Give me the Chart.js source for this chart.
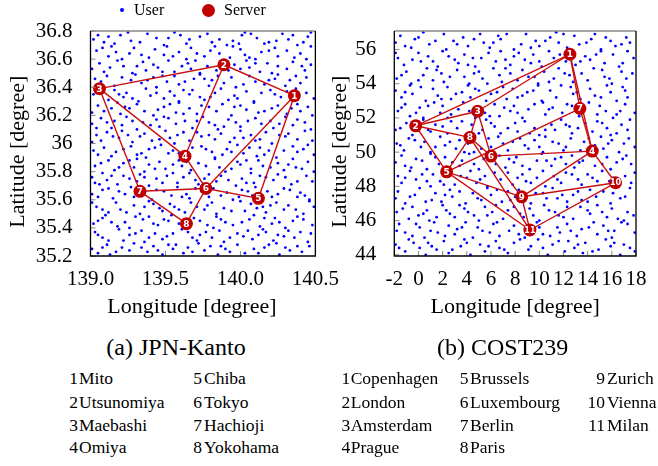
<!DOCTYPE html>
<html>
<head>
<meta charset="utf-8">
<script src="https://cdn.jsdelivr.net/npm/chart.js@4.4.0/dist/chart.umd.min.js"></script>
<style>
  body { margin: 0; width: 658px; height: 466px; background: #fff; position: relative; overflow: hidden;
         font-family: "Liberation Serif", "Times New Roman", serif; color: #000; }
  .cv { position: absolute; top: 0; height: 330px; }
  .txt { position: absolute; white-space: nowrap; }
  .mk { position: absolute; border-radius: 50%; }
  .lg { font-size: 16px; line-height: 16px; }
  .cap { font-size: 24px; line-height: 24px; transform: translateX(-50%); }
  .item { font-size: 17.5px; line-height: 17.5px; display: flex; }
  .item .num { display: inline-block; text-align: right; }
</style>
</head>
<body>
<div class="cv" style="left:0;width:350px"><canvas id="kantoChart"></canvas></div>
<div class="cv" style="left:320px;width:338px"><canvas id="costChart"></canvas></div>

<div class="mk" style="left:120px;top:8px;width:4px;height:4px;background:#0000ff"></div>
<div class="txt lg" style="left:134px;top:1.6px">User</div>
<div class="mk" style="left:201.5px;top:3.5px;width:13px;height:13px;background:#c00000"></div>
<div class="txt lg" style="left:224px;top:1.6px">Server</div>

<div class="txt cap" style="left:176px;top:334.9px">(a) JPN-Kanto</div>
<div class="txt cap" style="left:502.7px;top:334.9px">(b) COST239</div>
<div id="lists"></div>

<script>
// ---- JPN-Kanto ----
const kantoServers = [[140.36,36.34],[139.89,36.56],[139.06,36.39],[139.63,35.91],
                      [140.12,35.61],[139.77,35.68],[139.33,35.66],[139.64,35.43]];
const kantoEdges = [[3,2],[2,1],[3,4],[2,4],[3,7],[1,6],[1,5],[4,6],[7,6],[6,5],[7,8],[8,6]];
const kantoLonTicks = [139.0, 139.5, 140.0, 140.5];
const kantoLonLabels = ['139.0', '139.5', '140.0', '140.5'];
const kantoLatTicks = [35.2, 35.4, 35.6, 35.8, 36.0, 36.2, 36.4, 36.6, 36.8];
const kantoLatLabels = ['35.2', '35.4', '35.6', '35.8', '36', '36.2', '36.4', '36.6', '36.8'];
const kantoNames = ['Mito', 'Utsunomiya', 'Maebashi', 'Omiya', 'Chiba', 'Tokyo', 'Hachioji', 'Yokohama'];
const kantoUsers = [
[139.02,36.74],[139.05,36.77],[139.12,36.76],[139.16,36.71],[139.25,36.79],[139.27,36.73],[139.33,36.72],[139.38,36.78],[139.49,36.70],[139.52,36.75],[139.56,36.79],[139.64,36.71],[139.66,36.74],[139.73,36.76],[139.78,36.78],[139.81,36.72],[139.91,36.70],[139.95,36.73],[140.01,36.77],[140.03,36.79],[140.11,36.75],[140.16,36.71],[140.19,36.72],[140.28,36.78],[140.32,36.74],[140.38,36.70],[140.45,36.76],[140.47,36.79],
[139.09,36.72],[139.20,36.77],[139.44,36.75],[139.60,36.77],[139.86,36.74],[139.99,36.71],[140.07,36.78],[140.24,36.73],[140.35,36.77],[140.42,36.72],
[139.04,36.66],[139.12,36.62],[139.14,36.69],[139.21,36.60],[139.26,36.64],[139.29,36.68],[139.39,36.61],[139.43,36.67],[139.49,36.63],[139.51,36.69],[139.59,36.65],[139.64,36.60],[139.67,36.68],[139.76,36.62],[139.80,36.66],[139.86,36.64],[139.93,36.61],[139.95,36.69],[140.00,36.67],[140.03,36.63],[140.10,36.60],[140.14,36.65],[140.23,36.68],[140.25,36.62],[140.31,36.66],[140.36,36.61],[140.47,36.69],
[139.08,36.68],[139.17,36.65],[139.34,36.63],[139.55,36.62],[139.71,36.64],[139.83,36.69],[140.06,36.61],[140.19,36.66],[140.40,36.64],[140.44,36.60],
[139.01,36.53],[139.06,36.57],[139.09,36.51],[139.18,36.59],[139.22,36.55],[139.28,36.50],[139.35,36.58],[139.37,36.52],[139.42,36.56],[139.45,36.54],[139.52,36.59],[139.56,36.51],[139.65,36.57],[139.67,36.53],[139.73,36.50],[139.78,36.55],[139.89,36.58],[139.92,36.52],[139.96,36.56],[140.04,36.59],[140.06,36.54],[140.13,36.51],[140.18,36.57],[140.21,36.50],[140.31,36.53],[140.35,36.58],[140.41,36.55],[140.43,36.52],
[139.13,36.54],[139.31,36.55],[139.48,36.51],[139.61,36.55],[139.70,36.59],[139.84,36.52],[140.00,36.53],[140.10,36.57],[140.25,36.55],[140.47,36.56],
[139.03,36.46],[139.05,36.42],[139.11,36.48],[139.16,36.41],[139.27,36.45],[139.30,36.49],[139.34,36.43],[139.42,36.47],[139.44,36.40],[139.51,36.44],[139.56,36.48],[139.59,36.42],[139.69,36.46],[139.73,36.49],[139.79,36.41],[139.81,36.45],[139.89,36.43],[139.94,36.47],[139.97,36.40],[140.06,36.48],[140.10,36.44],[140.16,36.42],[140.23,36.46],[140.25,36.49],[140.30,36.41],[140.33,36.45],[140.40,36.43],[140.44,36.47],
[139.07,36.44],[139.21,36.47],[139.38,36.45],[139.48,36.48],[139.63,36.44],[139.76,36.46],[139.85,36.48],[140.02,36.42],[140.19,36.45],[140.37,36.48],
[139.02,36.35],[139.12,36.31],[139.16,36.38],[139.22,36.33],[139.24,36.36],[139.32,36.30],[139.37,36.39],[139.40,36.34],[139.49,36.32],[139.53,36.37],[139.59,36.30],[139.66,36.35],[139.68,36.38],[139.73,36.33],[139.76,36.31],[139.83,36.36],[139.87,36.39],[139.96,36.34],[139.98,36.32],[140.04,36.37],[140.09,36.30],[140.20,36.38],[140.23,36.35],[140.27,36.33],[140.35,36.31],[140.37,36.39],[140.44,36.36],[140.49,36.32],
[139.07,36.37],[139.19,36.35],[139.28,36.32],[139.44,36.36],[139.56,36.34],[139.62,36.38],[139.80,36.33],[139.92,36.31],[140.14,36.36],[140.31,36.37],
[139.05,36.27],[139.09,36.23],[139.18,36.29],[139.20,36.21],[139.26,36.25],[139.31,36.28],[139.42,36.20],[139.45,36.24],[139.49,36.26],[139.57,36.22],[139.59,36.29],[139.66,36.25],[139.71,36.21],[139.74,36.27],[139.84,36.23],[139.88,36.28],[139.94,36.20],[139.96,36.26],[140.04,36.24],[140.09,36.29],[140.12,36.22],[140.21,36.25],[140.25,36.27],[140.31,36.21],[140.38,36.28],[140.40,36.23],[140.45,36.26],[140.48,36.20],
[139.01,36.22],[139.14,36.25],[139.23,36.26],[139.36,36.23],[139.53,36.28],[139.62,36.21],[139.79,36.26],[140.00,36.27],[140.16,36.23],[140.34,36.25],
[139.01,36.14],[139.07,36.18],[139.14,36.11],[139.16,36.16],[139.21,36.13],[139.24,36.19],[139.31,36.10],[139.35,36.15],[139.44,36.17],[139.46,36.12],[139.52,36.18],[139.57,36.14],[139.68,36.11],[139.71,36.16],[139.75,36.19],[139.83,36.13],[139.85,36.10],[139.92,36.17],[139.97,36.15],[140.00,36.12],[140.10,36.18],[140.14,36.14],[140.20,36.16],[140.22,36.11],[140.30,36.19],[140.35,36.13],[140.38,36.17],[140.47,36.10],
[139.04,36.11],[139.11,36.15],[139.28,36.16],[139.40,36.13],[139.49,36.19],[139.63,36.16],[139.79,36.15],[139.89,36.12],[140.05,36.16],[140.26,36.14],[140.43,36.15],
[139.04,36.06],[139.07,36.02],[139.11,36.08],[139.19,36.04],[139.21,36.09],[139.28,36.01],[139.33,36.05],[139.36,36.07],[139.46,36.03],[139.50,36.09],[139.56,36.00],[139.58,36.06],[139.66,36.02],[139.71,36.08],[139.74,36.05],[139.83,36.03],[139.87,36.07],[139.93,36.01],[140.00,36.09],[140.02,36.04],[140.07,36.06],[140.10,36.02],[140.17,36.08],[140.21,36.00],[140.30,36.05],[140.32,36.07],[140.38,36.03],[140.43,36.09],
[139.01,36.01],[139.15,36.05],[139.25,36.06],[139.41,36.02],[139.53,36.04],[139.62,36.08],[139.79,36.06],[139.96,36.04],[140.13,36.03],[140.26,36.06],[140.48,36.02],
[139.02,35.95],[139.09,35.97],[139.14,35.91],[139.17,35.94],[139.27,35.98],[139.31,35.92],[139.37,35.90],[139.39,35.96],[139.47,35.99],[139.52,35.93],[139.55,35.95],[139.64,35.91],[139.68,35.97],[139.74,35.98],[139.81,35.94],[139.83,35.90],[139.88,35.92],[139.91,35.96],[139.98,35.99],[140.02,35.93],[140.11,35.91],[140.13,35.97],[140.19,35.95],[140.24,35.90],[140.35,35.98],[140.38,35.94],[140.42,35.96],[140.49,35.92],
[139.05,35.92],[139.22,35.96],[139.34,35.93],[139.43,35.97],[139.59,35.93],[139.77,35.96],[139.94,35.94],[140.06,35.97],[140.16,35.92],[140.29,35.95],[140.45,35.99],
[139.03,35.84],[139.12,35.88],[139.16,35.81],[139.22,35.86],[139.29,35.83],[139.31,35.89],[139.36,35.80],[139.39,35.85],[139.46,35.87],[139.50,35.82],[139.59,35.88],[139.61,35.84],[139.67,35.81],[139.72,35.86],[139.83,35.89],[139.86,35.83],[139.90,35.80],[139.98,35.87],[140.00,35.85],[140.07,35.82],[140.12,35.88],[140.15,35.84],[140.25,35.86],[140.29,35.81],[140.35,35.89],[140.37,35.83],[140.45,35.87],[140.49,35.80],
[139.07,35.86],[139.19,35.83],[139.26,35.88],[139.43,35.82],[139.55,35.85],[139.64,35.87],[139.77,35.84],[139.94,35.82],[140.04,35.88],[140.20,35.83],[140.32,35.85],[140.41,35.82],
[139.01,35.76],[139.03,35.72],[139.08,35.79],[139.11,35.74],[139.18,35.71],[139.22,35.77],[139.31,35.73],[139.33,35.78],[139.39,35.70],[139.44,35.75],[139.55,35.79],[139.58,35.72],[139.62,35.76],[139.70,35.74],[139.72,35.71],[139.79,35.78],[139.84,35.73],[139.87,35.77],[139.97,35.70],[140.01,35.75],[140.07,35.79],[140.09,35.72],[140.17,35.76],[140.22,35.74],[140.25,35.78],[140.34,35.71],[140.38,35.73],[140.44,35.77],
[139.06,35.71],[139.14,35.77],[139.26,35.75],[139.36,35.76],[139.48,35.72],[139.51,35.77],[139.66,35.79],[139.76,35.75],[139.92,35.74],[140.04,35.72],[140.13,35.77],[140.30,35.76],[140.48,35.73],
[139.01,35.64],[139.12,35.68],[139.15,35.61],[139.19,35.66],[139.27,35.69],[139.29,35.62],[139.36,35.65],[139.41,35.60],[139.44,35.67],[139.54,35.63],[139.58,35.69],[139.64,35.64],[139.66,35.61],[139.74,35.66],[139.79,35.62],[139.82,35.68],[139.91,35.65],[139.95,35.60],[140.01,35.67],[140.08,35.63],[140.10,35.69],[140.15,35.61],[140.18,35.66],[140.25,35.64],[140.29,35.68],[140.38,35.62],[140.40,35.65],[140.46,35.60],
[139.05,35.62],[139.08,35.67],[139.23,35.64],[139.32,35.67],[139.49,35.66],[139.61,35.62],[139.70,35.68],[139.87,35.63],[139.99,35.62],[140.05,35.66],[140.21,35.62],[140.33,35.67],[140.43,35.63],
[139.04,35.55],[139.12,35.51],[139.17,35.58],[139.20,35.53],[139.29,35.56],[139.33,35.50],[139.39,35.59],[139.46,35.54],[139.48,35.52],[139.53,35.57],[139.56,35.55],[139.63,35.51],[139.67,35.58],[139.76,35.53],[139.78,35.56],[139.84,35.50],[139.89,35.54],[140.00,35.59],[140.03,35.52],[140.07,35.57],[140.15,35.55],[140.17,35.51],[140.24,35.58],[140.29,35.53],[140.32,35.56],[140.42,35.50],[140.46,35.59],
[139.01,35.58],[139.08,35.53],[139.24,35.51],[139.36,35.55],[139.42,35.57],[139.59,35.53],[139.71,35.55],[139.81,35.58],[139.94,35.52],[140.11,35.54],[140.20,35.56],[140.37,35.53],[140.49,35.55],
[139.02,35.43],[139.08,35.47],[139.10,35.49],[139.18,35.41],[139.23,35.44],[139.26,35.40],[139.35,35.46],[139.39,35.48],[139.45,35.42],[139.52,35.45],[139.54,35.49],[139.59,35.43],[139.62,35.41],[139.69,35.47],[139.73,35.45],[139.82,35.40],[139.84,35.48],[139.90,35.44],[139.95,35.42],[140.06,35.46],[140.09,35.49],[140.13,35.41],[140.21,35.43],[140.23,35.47],[140.30,35.40],[140.35,35.45],[140.38,35.48],[140.48,35.42],
[139.05,35.45],[139.14,35.44],[139.30,35.48],[139.42,35.43],[139.49,35.46],[139.65,35.45],[139.78,35.42],[139.87,35.46],[140.01,35.44],[140.16,35.47],[140.26,35.44],[140.42,35.46],
[139.03,35.37],[139.08,35.33],[139.19,35.39],[139.22,35.31],[139.26,35.35],[139.34,35.38],[139.36,35.30],[139.43,35.36],[139.48,35.32],[139.51,35.34],[139.61,35.39],[139.65,35.37],[139.71,35.31],[139.73,35.35],[139.81,35.33],[139.86,35.38],[139.89,35.30],[139.98,35.36],[140.02,35.34],[140.08,35.32],[140.15,35.39],[140.17,35.37],[140.22,35.31],[140.25,35.35],[140.32,35.38],[140.36,35.33],[140.45,35.30],[140.47,35.36],
[139.05,35.35],[139.12,35.31],[139.30,35.36],[139.39,35.33],[139.55,35.36],[139.68,35.33],[139.77,35.37],[139.93,35.33],[140.05,35.38],[140.12,35.35],[140.29,35.34],[140.40,35.37],
[139.01,35.25],[139.05,35.22],[139.11,35.28],[139.13,35.21],[139.21,35.26],[139.26,35.24],[139.29,35.29],[139.38,35.23],[139.42,35.27],[139.48,35.21],[139.55,35.25],[139.57,35.28],[139.62,35.22],[139.65,35.26],[139.72,35.29],[139.76,35.24],[139.85,35.21],[139.87,35.27],[139.93,35.23],[139.98,35.28],[140.09,35.25],[140.12,35.22],[140.16,35.26],[140.24,35.29],[140.26,35.21],[140.33,35.24],[140.38,35.27],[140.41,35.23],
[139.08,35.26],[139.17,35.23],[139.34,35.26],[139.45,35.24],[139.52,35.28],[139.68,35.23],[139.80,35.27],[139.90,35.25],[140.03,35.22],[140.19,35.28],[140.30,35.26],[140.46,35.27]
];

// ---- COST239 ----
const costServers = [[12.53,55.72],[-0.23,51.54],[4.90,52.39],[14.38,50.06],[2.33,48.85],[6.00,49.77],
                     [13.36,52.55],[4.26,50.86],[8.54,47.39],[16.31,48.21],[9.22,45.45]];
const costEdges = [[1,2],[1,3],[1,7],[1,4],[2,3],[2,8],[2,5],[3,8],[3,6],[8,5],[8,6],[8,11],
                   [7,5],[7,4],[6,4],[6,9],[5,9],[5,11],[4,9],[4,10],[9,10],[9,11],[10,11]];
const costLonTicks = [-2, 0, 2, 4, 6, 8, 10, 12, 14, 16, 18];
const costLonLabels = ['-2', '0', '2', '4', '6', '8', '10', '12', '14', '16', '18'];
const costLatTicks = [44, 46, 48, 50, 52, 54, 56];
const costLatLabels = ['44', '46', '48', '50', '52', '54', '56'];
const costNames = ['Copenhagen', 'London', 'Amsterdam', 'Prague', 'Brussels', 'Luxembourg',
                   'Berlin', 'Paris', 'Zurich', 'Vienna', 'Milan'];
const costUsers = [
[-1.9,56.4],[-1.5,56.8],[-0.6,56.1],[-0.3,56.6],[0.4,57.0],[0.9,56.3],[2.1,56.9],[2.3,56.0],[2.9,56.5],[3.7,56.7],[4.1,56.2],[5.1,56.9],[5.4,56.4],[5.9,56.1],[6.6,56.8],[6.8,56.6],[7.9,56.0],[8.5,56.3],[8.9,56.9],[9.7,56.5],[10.0,56.2],[10.9,56.7],[11.4,57.0],[11.6,56.4],[12.3,56.1],[12.9,56.8],[13.3,56.3],[14.3,56.6],[14.6,56.9],[15.1,56.0],[15.9,56.5],[16.3,56.2],[17.2,56.7],[17.5,56.4],
[-1.1,56.2],[0.0,56.7],[1.4,56.5],[3.2,56.3],[4.6,56.6],[6.2,56.4],[7.3,56.9],[9.3,56.1],[10.5,56.5],[12.0,56.9],[13.9,56.4],[15.5,56.7],[16.8,56.3],
[-1.7,55.5],[-1.2,55.1],[0.0,55.8],[0.2,55.3],[0.8,55.6],[1.6,55.0],[2.0,55.9],[3.0,55.4],[3.3,55.2],[3.8,55.7],[4.5,55.5],[4.7,55.0],[5.8,55.8],[6.4,55.3],[6.8,55.9],[7.6,55.1],[7.9,55.6],[8.8,55.4],[9.3,55.2],[9.5,55.7],[10.2,55.0],[10.8,55.9],[11.2,55.5],[12.2,55.3],[12.5,55.8],[13.0,55.1],[13.8,55.6],[14.2,55.4],[15.1,55.9],[15.4,55.2],[16.1,55.7],[16.6,55.0],[17.8,55.5],
[-1.9,55.8],[-0.5,55.4],[1.2,55.3],[2.5,55.6],[4.1,55.1],[5.2,55.5],[7.2,55.4],[8.3,55.8],[10.0,55.3],[11.7,55.7],[13.4,55.3],[14.7,55.7],[16.9,55.2],[17.3,55.9],
[-1.8,54.3],[-1.0,54.7],[-0.6,54.0],[0.4,54.5],[0.7,54.9],[1.2,54.2],[1.9,54.6],[2.1,54.1],[3.2,54.8],[3.8,54.4],[4.2,54.0],[5.0,54.7],[5.3,54.3],[6.2,54.9],[6.7,54.5],[6.9,54.1],[7.6,54.6],[8.2,54.2],[8.6,54.8],[9.6,54.4],[9.9,54.0],[10.4,54.7],[11.2,54.3],[11.6,54.9],[12.5,54.5],[12.8,54.1],[13.5,54.6],[14.0,54.2],[15.2,54.8],[15.4,54.4],[16.0,54.0],[16.8,54.7],[17.2,54.3],
[-1.4,54.5],[0.0,54.2],[1.5,54.8],[2.6,54.4],[4.6,54.6],[5.7,54.0],[7.2,54.9],[9.1,54.4],[10.8,54.1],[12.1,54.6],[14.5,54.9],[15.8,54.3],[17.7,54.6],
[-1.9,53.6],[-1.4,53.2],[-0.7,53.9],[-0.5,53.4],[0.6,53.0],[1.2,53.7],[1.6,53.3],[2.4,53.8],[2.7,53.1],[3.6,53.5],[4.1,53.9],[4.3,53.2],[5.0,53.6],[5.6,53.0],[6.0,53.4],[7.0,53.8],[7.3,53.1],[7.8,53.7],[8.6,53.3],[9.0,53.5],[9.9,53.9],[10.2,53.0],[10.9,53.6],[11.4,53.2],[12.6,53.8],[12.8,53.4],[13.4,53.1],[14.2,53.7],[14.6,53.3],[15.6,53.9],[15.9,53.5],[16.4,53.0],[17.1,53.6],[17.3,53.2],
[-1.1,53.5],[0.2,53.8],[1.9,53.1],[3.1,53.4],[4.7,53.7],[6.5,53.5],[8.2,53.2],[9.5,53.6],[11.8,53.9],[13.1,53.5],[15.1,53.2],[16.9,53.8],
[-1.7,52.4],[-1.1,52.8],[-0.7,52.1],[0.1,52.6],[0.4,52.0],[1.3,52.9],[1.8,52.3],[2.0,52.7],[2.7,52.2],[3.3,52.5],[3.7,52.9],[4.7,52.0],[5.0,52.6],[5.5,52.3],[6.3,52.8],[6.7,52.1],[7.6,52.4],[7.9,52.7],[8.6,52.0],[9.1,52.5],[10.3,52.9],[10.5,52.2],[11.1,52.6],[11.9,52.3],[12.3,52.8],[13.3,52.1],[13.6,52.5],[14.1,52.9],[14.8,52.2],[15.0,52.7],[16.1,52.0],[16.7,52.4],[17.1,52.8],[17.9,52.3],
[-1.4,52.6],[-0.2,52.3],[0.8,52.7],[2.4,52.0],[4.2,52.4],[5.9,52.1],[7.1,52.6],[8.2,52.3],[9.6,52.8],[10.8,52.5],[12.7,52.7],[15.5,52.4],[16.4,52.2],
[-1.9,51.3],[-1.0,51.7],[-0.5,51.0],[-0.3,51.5],[0.4,51.9],[1.0,51.2],[1.4,51.6],[2.4,51.1],[2.7,51.8],[3.2,51.4],[4.0,51.0],[4.4,51.6],[5.3,51.3],[5.6,51.9],[6.3,51.5],[6.8,51.1],[8.0,51.7],[8.2,51.2],[8.8,51.8],[9.6,51.4],[10.0,51.0],[11.0,51.6],[11.3,51.3],[11.8,51.9],[12.5,51.5],[12.7,51.1],[13.8,51.7],[14.4,51.2],[14.8,51.8],[15.6,51.4],[15.9,51.0],[16.8,51.6],[17.3,51.3],[17.5,51.9],
[-1.5,51.4],[0.0,51.8],[0.8,51.3],[2.0,51.5],[3.6,51.8],[5.0,51.1],[6.0,51.7],[7.4,51.4],[9.2,51.1],[10.5,51.3],[12.2,51.6],[13.2,51.4],[15.2,51.7],[16.4,51.1],
[-1.8,50.5],[-1.2,50.1],[-0.8,50.8],[0.2,50.3],[0.5,50.6],[1.0,50.0],[1.8,50.9],[2.2,50.4],[3.1,50.2],[3.4,50.7],[4.1,50.5],[4.6,50.0],[5.8,50.8],[6.0,50.3],[6.6,50.9],[7.4,50.1],[7.8,50.6],[8.8,50.4],[9.1,50.2],[9.6,50.7],[10.3,50.0],[10.5,50.9],[11.6,50.5],[12.2,50.3],[12.6,50.8],[13.4,50.1],[13.7,50.6],[14.6,50.4],[15.1,50.9],[15.3,50.2],[16.0,50.7],[16.6,50.0],[17.0,50.5],[17.9,50.3],
[-1.5,50.4],[-0.3,50.7],[1.4,50.3],[2.6,50.6],[3.8,50.0],[5.2,50.2],[7.0,50.5],[8.4,50.8],[10.0,50.3],[11.1,50.6],[12.0,50.1],[14.1,50.8],[15.7,50.5],[17.4,50.8],
[-1.9,49.4],[-1.4,49.8],[-0.6,49.1],[-0.2,49.6],[0.7,49.0],[1.0,49.9],[1.7,49.3],[2.2,49.7],[3.4,49.2],[3.6,49.5],[4.2,49.9],[5.0,49.0],[5.4,49.6],[6.4,49.3],[6.7,49.8],[7.2,49.1],[7.9,49.4],[8.1,49.7],[9.2,49.0],[9.8,49.5],[10.2,49.9],[11.0,49.2],[11.3,49.6],[12.2,49.3],[12.7,49.8],[12.9,49.1],[13.6,49.5],[14.2,49.9],[14.6,49.2],[15.6,49.7],[15.9,49.0],[16.4,49.4],[17.2,49.8],[17.6,49.3],
[-1.1,49.2],[0.3,49.5],[1.4,49.7],[2.8,49.4],[4.6,49.3],[5.8,49.8],[7.5,49.6],[8.6,49.2],[10.6,49.5],[11.8,49.7],[13.3,49.4],[15.2,49.3],[16.9,49.6],
[-1.7,48.6],[-1.4,48.2],[-0.7,48.9],[-0.2,48.4],[1.0,48.0],[1.2,48.7],[1.8,48.3],[2.6,48.8],[3.0,48.1],[4.0,48.5],[4.3,48.9],[4.8,48.2],[5.5,48.6],[5.7,48.0],[6.8,48.4],[7.4,48.8],[7.8,48.1],[8.6,48.7],[8.9,48.3],[9.8,48.5],[10.3,48.9],[10.5,48.0],[11.2,48.6],[11.8,48.2],[12.2,48.8],[13.2,48.4],[13.5,48.1],[14.0,48.7],[14.8,48.3],[15.2,48.9],[16.1,48.5],[16.4,48.0],[17.1,48.6],[17.6,48.2],
[-1.1,48.5],[0.3,48.7],[0.7,48.3],[2.1,48.1],[3.5,48.6],[5.1,48.4],[6.3,48.8],[8.2,48.5],[9.3,48.2],[11.5,48.4],[12.7,48.7],[14.4,48.5],[15.8,48.3],[17.9,48.8],
[-1.9,47.3],[-1.7,47.7],[-1.1,47.0],[-0.3,47.5],[0.1,47.9],[1.1,47.2],[1.4,47.6],[1.9,47.1],[2.6,47.8],[2.8,47.4],[3.9,47.0],[4.5,47.6],[4.9,47.3],[5.7,47.9],[6.0,47.5],[6.9,47.1],[7.4,47.7],[7.6,47.2],[8.3,47.8],[8.9,47.4],[9.3,47.0],[10.3,47.6],[10.6,47.3],[11.1,47.9],[11.9,47.5],[12.3,47.1],[13.2,47.7],[13.5,47.2],[14.2,47.8],[14.7,47.4],[15.9,47.0],[16.1,47.6],[16.7,47.3],[17.5,47.9],
[-0.7,47.4],[0.6,47.1],[2.2,47.5],[3.4,47.7],[5.2,47.2],[6.5,47.8],[8.0,47.4],[9.7,47.6],[11.5,47.3],[12.8,47.5],[14.0,47.1],[15.3,47.7],[17.1,47.4],
[-1.8,46.5],[-0.8,46.1],[-0.5,46.8],[0.0,46.3],[0.7,46.6],[0.9,46.0],[2.0,46.9],[2.6,46.4],[3.0,46.2],[3.8,46.7],[4.1,46.5],[5.0,46.0],[5.5,46.8],[5.7,46.3],[6.4,46.9],[7.0,46.1],[7.4,46.6],[8.4,46.4],[8.7,46.2],[9.2,46.7],[10.0,46.0],[10.4,46.9],[11.3,46.5],[11.6,46.3],[12.3,46.8],[12.8,46.1],[14.0,46.6],[14.2,46.4],[14.8,46.9],[15.6,46.2],[16.0,46.7],[17.0,46.0],[17.3,46.5],[17.8,46.3],
[-1.3,46.7],[0.4,46.4],[1.5,46.2],[2.3,46.6],[3.4,46.9],[4.6,46.3],[6.1,46.5],[7.9,46.8],[9.5,46.3],[10.8,46.6],[12.0,46.2],[13.4,46.8],[15.2,46.5],[16.5,46.1],
[-1.8,45.4],[-1.6,45.8],[-0.5,45.1],[0.1,45.6],[0.5,45.0],[1.3,45.9],[1.6,45.3],[2.5,45.7],[3.0,45.2],[3.2,45.5],[3.9,45.9],[4.5,45.0],[4.9,45.6],[5.9,45.3],[6.2,45.8],[6.7,45.1],[7.5,45.4],[7.9,45.7],[8.8,45.0],[9.1,45.5],[9.8,45.9],[10.3,45.2],[11.5,45.6],[11.7,45.3],[12.3,45.8],[13.1,45.1],[13.5,45.5],[14.5,45.9],[14.8,45.2],[15.3,45.7],[16.0,45.0],[16.2,45.4],[17.3,45.8],[17.9,45.3],
[-1.1,45.3],[-0.2,45.8],[1.0,45.4],[2.2,45.1],[3.6,45.6],[5.3,45.4],[6.5,45.9],[8.3,45.2],[10.0,45.6],[10.9,45.1],[12.6,45.4],[14.1,45.6],[15.7,45.4],[16.8,45.9],
[-1.9,44.6],[-1.1,44.2],[-0.8,44.9],[0.1,44.4],[0.6,44.0],[0.8,44.7],[1.5,44.3],[2.1,44.8],[2.5,44.1],[3.5,44.5],[3.8,44.9],[4.3,44.0],[5.1,44.6],[5.5,44.2],[6.4,44.8],[6.7,44.4],[7.4,44.1],[7.9,44.7],[9.1,44.3],[9.3,44.5],[9.9,44.9],[10.7,44.0],[11.1,44.6],[12.1,44.2],[12.4,44.8],[12.9,44.4],[13.6,44.1],[13.8,44.7],[14.9,44.3],[15.5,44.9],[15.9,44.5],[16.7,44.0],[17.0,44.6],[17.9,44.2],
[-1.6,44.4],[-0.4,44.7],[1.1,44.5],[2.8,44.3],[4.0,44.7],[5.8,44.5],[7.1,44.3],[8.4,44.9],[10.3,44.4],[11.6,44.8],[13.2,44.6],[14.4,44.2],[16.2,44.7],[17.5,44.4]
];

const serverRed = '#c00000';
const edgeRed = '#c81010';
const userBlue = '#0000ff';
const serif = "'Liberation Serif', 'Times New Roman', serif";

// gnuplot-like frame: black left/bottom/right, grey top, inward ticks
const gnuFrame = {
    id: 'gnuFrame',
    afterDraw(chart) {
        const {ctx, chartArea: a, scales} = chart;
        ctx.save();
        ctx.strokeStyle = '#888';
        ctx.lineWidth = 1;
        ctx.beginPath();
        scales.x.ticks.forEach(t => {
            const px = scales.x.getPixelForValue(t.value);
            ctx.moveTo(px, a.bottom);
            ctx.lineTo(px, a.bottom - 5);
        });
        scales.y.ticks.forEach(t => {
            const py = scales.y.getPixelForValue(t.value);
            ctx.moveTo(a.left, py);
            ctx.lineTo(a.left + 5, py);
        });
        ctx.stroke();
        ctx.lineWidth = 1.3;
        ctx.beginPath();
        ctx.moveTo(a.left, a.top);
        ctx.lineTo(a.right, a.top);
        ctx.stroke();
        ctx.strokeStyle = '#000';
        ctx.beginPath();
        ctx.moveTo(a.right, a.top);
        ctx.lineTo(a.right, a.bottom);
        ctx.lineTo(a.left, a.bottom);
        ctx.lineTo(a.left, a.top);
        ctx.stroke();
        ctx.restore();
    }
};

// white numbers inside the server circles
const serverLabels = {
    id: 'serverLabels',
    afterDatasetsDraw(chart) {
        const ctx = chart.ctx;
        chart.data.datasets.forEach((ds, i) => {
            if (!ds.isServer) return;
            chart.getDatasetMeta(i).data.forEach((pt, k) => {
                const label = String(k + 1);
                ctx.save();
                ctx.fillStyle = '#fff';
                ctx.font = 'bold ' + (label.length > 1 ? 8 : 9) + "px 'DejaVu Sans', sans-serif";
                ctx.textAlign = 'center';
                ctx.textBaseline = 'middle';
                ctx.fillText(label, pt.x, pt.y + 0.5);
                ctx.restore();
            });
        });
    }
};

function buildChart(canvasId, setup) {
    const toPoint = ([x, y]) => ({x, y});
    const datasets = [{
        data: setup.servers.map(toPoint),
        isServer: true,
        pointRadius: 6.5,
        pointHoverRadius: 6.5,
        backgroundColor: serverRed,
        borderWidth: 0,
        order: 0
    }];
    setup.edges.forEach(([a, b]) => {
        datasets.push({
            data: [setup.servers[a - 1], setup.servers[b - 1]].map(toPoint),
            showLine: true,
            borderColor: edgeRed,
            borderWidth: 1.4,
            pointRadius: 0,
            order: 1
        });
    });
    datasets.push({
        data: setup.users.map(toPoint),
        pointRadius: 1.4,
        pointHoverRadius: 1.4,
        backgroundColor: userBlue,
        borderWidth: 0,
        order: 2
    });

    const tickFont = {family: serif, size: 21};
    const titleFont = {family: serif, size: 22};

    return new Chart(document.getElementById(canvasId), {
        type: 'scatter',
        data: {datasets},
        options: {
            responsive: true,
            maintainAspectRatio: false,
            animation: false,
            events: [],
            layout: {padding: setup.padding},
            plugins: {legend: {display: false}, tooltip: {enabled: false}},
            scales: {
                x: {
                    type: 'linear',
                    min: setup.xRange[0],
                    max: setup.xRange[1],
                    grid: {display: false, drawTicks: false},
                    border: {display: false},
                    afterBuildTicks: s => { s.ticks = setup.xTicks.map(value => ({value})); },
                    afterFit: s => { s.height = setup.xHeight; },
                    ticks: {
                        autoSkip: false, maxRotation: 0, minRotation: 0, padding: 11,
                        color: '#000', font: tickFont,
                        callback: (v, i) => setup.xLabels[i]
                    },
                    title: {display: true, text: setup.xTitle, color: '#000', font: titleFont,
                            padding: {top: 0, bottom: 10}}
                },
                y: {
                    type: 'linear',
                    min: setup.yRange[0],
                    max: setup.yRange[1],
                    grid: {display: false, drawTicks: false},
                    border: {display: false},
                    afterBuildTicks: s => { s.ticks = setup.yTicks.map(value => ({value})); },
                    afterFit: s => { s.width = setup.yWidth; },
                    ticks: {
                        autoSkip: false, padding: 18, color: '#000', font: tickFont,
                        callback: (v, i) => setup.yLabels[i]
                    },
                    title: {display: true, text: setup.yTitle, color: '#000', font: titleFont,
                            padding: {top: setup.yTitlePad, bottom: 0}}
                }
            }
        },
        plugins: [serverLabels, gnuFrame]
    });
}

buildChart('kantoChart', {
    servers: kantoServers, edges: kantoEdges, users: kantoUsers,
    xRange: [139.0, 140.5], yRange: [35.2, 36.8],
    xTicks: kantoLonTicks, xLabels: kantoLonLabels,
    yTicks: kantoLatTicks, yLabels: kantoLatLabels,
    xTitle: 'Longitude [degree]    ', yTitle: 'Latitude [degree]   ',
    padding: {left: 0, top: 31, right: 32, bottom: 0},
    xHeight: 74, yWidth: 90.5, yTitlePad: 5
});

buildChart('costChart', {
    servers: costServers, edges: costEdges, users: costUsers,
    xRange: [-2, 18], yRange: [43.93, 57.08],
    xTicks: costLonTicks, xLabels: costLonLabels,
    yTicks: costLatTicks, yLabels: costLatLabels,
    xTitle: 'Longitude [degree]', yTitle: 'Latitude [degree]   ',
    padding: {left: 0, top: 31, right: 22, bottom: 0},
    xHeight: 74, yWidth: 74.3, yTitlePad: 7
});

// city lists under the captions
const listRows = [370.3, 393.6, 417.0, 439.3];
function addList(names, columns) {
    const box = document.getElementById('lists');
    names.forEach((name, i) => {
        const col = columns[Math.floor(i / 4)];
        const row = document.createElement('div');
        row.className = 'txt item';
        row.style.left = (col.numRight - col.numWidth) + 'px';
        row.style.top = listRows[i % 4] + 'px';
        const num = document.createElement('span');
        num.className = 'num';
        num.style.width = col.numWidth + 'px';
        num.textContent = i + 1;
        const label = document.createElement('span');
        label.style.marginLeft = col.gap + 'px';
        label.textContent = name;
        row.appendChild(num);
        row.appendChild(label);
        box.appendChild(row);
    });
}
addList(kantoNames, [{numRight: 78, numWidth: 20, gap: 1}, {numRight: 202, numWidth: 20, gap: 2}]);
addList(costNames, [{numRight: 350.2, numWidth: 20, gap: 0.5}, {numRight: 468.5, numWidth: 20, gap: 1.5},
                    {numRight: 605, numWidth: 20, gap: 2}]);
</script>
</body>
</html>
